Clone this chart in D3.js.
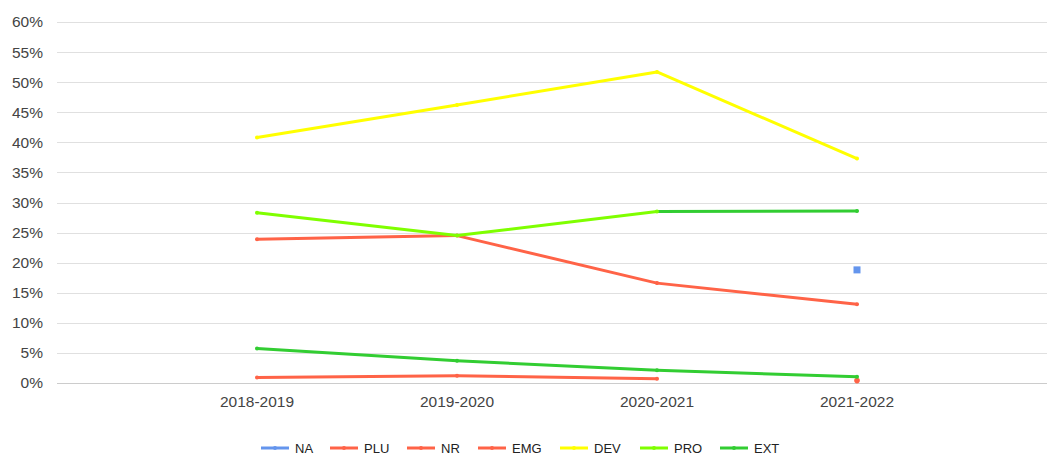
<!DOCTYPE html>
<html><head><meta charset="utf-8">
<script src="https://cdn.jsdelivr.net/npm/d3@7"></script>
<style>body{margin:0;background:#fff}svg{display:block}</style></head>
<body><svg id="c" width="1047" height="456"></svg>
<script>
const categories = ["2018-2019", "2019-2020", "2020-2021", "2021-2022"];
const seriesNames = ["NA", "PLU", "NR", "EMG", "DEV", "PRO", "EXT"];
const NA  = [null, null, null, 18.8];
const PLU = [23.9, 24.5, 16.6, 13.1];
const NR  = [0.9, 1.2, 0.7, null];
const EMG = [null, null, null, 0.4];
const DEV = [40.8, 46.2, 51.7, 37.3];
const PRO = [28.3, 24.5, 28.5, 28.6];
const EXT = [5.75, 3.7, 2.1, 1.05];
const yTicks = [0, 5, 10, 15, 20, 25, 30, 35, 40, 45, 50, 55, 60];
// the last PRO segment is drawn in the EXT colour in the reference
const proLastSegmentSeries = "EXT";

const seriesValues = {NA, PLU, NR, EMG, DEV, PRO, EXT};
const colors = {NA: "#6495ed", PLU: "#ff6347", NR: "#ff6347", EMG: "#ff6347",
                DEV: "#ffff00", PRO: "#7fff00", EXT: "#32cd32"};

const svg = d3.select("#c");
const font = "'Liberation Sans', Arial, sans-serif";
const x = d3.scalePoint().domain(categories).range([57, 1057]).padding(1);
const y = d3.scaleLinear().domain([0, 60]).range([383, 22]);

// gridlines
svg.append("g").selectAll("line").data(yTicks).join("line")
  .attr("x1", 57).attr("x2", 1047)
  .attr("y1", d => Math.round(y(d)) + 0.5).attr("y2", d => Math.round(y(d)) + 0.5)
  .attr("stroke", d => d === 0 ? "#cccccc" : "#e0e0e0").attr("stroke-width", 1);

// y labels
svg.append("g").selectAll("text").data(yTicks).join("text")
  .attr("x", 43).attr("y", d => y(d)).attr("dy", "0.35em")
  .attr("text-anchor", "end").attr("font-family", font).attr("font-size", 15.5)
  .attr("fill", "#444").text(d => d + "%");

// x labels
svg.append("g").selectAll("text").data(categories).join("text")
  .attr("x", d => x(d)).attr("y", 407)
  .attr("text-anchor", "middle").attr("font-family", font).attr("font-size", 15.5)
  .attr("fill", "#444").text(d => d);

// series
const g = svg.append("g");
seriesNames.forEach(name => {
  const vals = seriesValues[name];
  for (let i = 0; i < vals.length - 1; i++) {
    if (vals[i] == null || vals[i + 1] == null) continue;
    let col = colors[name];
    if (name === "PRO" && i === vals.length - 2) col = colors[proLastSegmentSeries];
    g.append("line")
      .attr("x1", x(categories[i])).attr("y1", y(vals[i]))
      .attr("x2", x(categories[i + 1])).attr("y2", y(vals[i + 1]))
      .attr("stroke", col).attr("stroke-width", 3).attr("stroke-linecap", "round");
  }
  vals.forEach((v, i) => {
    if (v == null) return;
    const isolated = (i === 0 || vals[i - 1] == null) && (i === vals.length - 1 || vals[i + 1] == null);
    let col = colors[name];
    if (name === "PRO" && i === vals.length - 1) col = colors[proLastSegmentSeries];
    if (isolated && name === "NA") {
      g.append("rect").attr("x", x(categories[i]) - 3.5).attr("y", y(v) - 3.5)
        .attr("width", 7).attr("height", 7).attr("fill", col);
    } else {
      g.append("circle").attr("cx", x(categories[i])).attr("cy", y(v))
        .attr("r", isolated ? 2.8 : 2).attr("fill", col);
    }
  });
});

// legend
const legendX = [261, 330, 407, 478, 560, 640, 720];
const lg = svg.append("g");
seriesNames.forEach((name, i) => {
  const lx = legendX[i], ly = 448;
  lg.append("line").attr("x1", lx).attr("x2", lx + 28).attr("y1", ly).attr("y2", ly)
    .attr("stroke", colors[name]).attr("stroke-width", 3);
  lg.append("circle").attr("cx", lx + 14).attr("cy", ly).attr("r", 2).attr("fill", colors[name]);
  lg.append("text").attr("x", lx + 34).attr("y", ly).attr("dy", "0.35em")
    .attr("font-family", font).attr("font-size", 13).attr("fill", "#222").text(name);
});
</script></body></html>
